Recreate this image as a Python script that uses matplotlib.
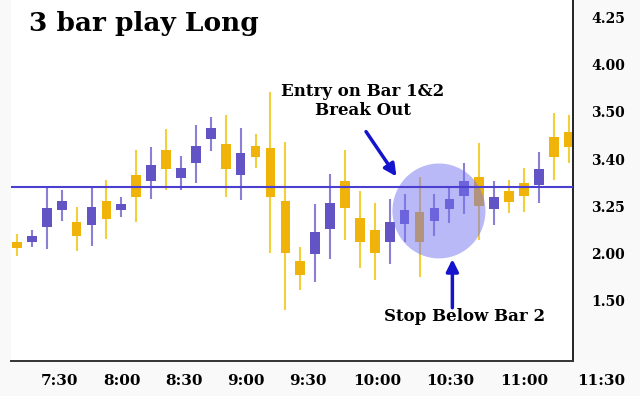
import matplotlib
matplotlib.use("Agg")
import matplotlib.pyplot as plt
from matplotlib.patches import Ellipse
import numpy as np

# ---------------------------------------------------------------- data
# prices in chart "steps" (one step = gap between two y labels)
OPEN = [1.25, 1.25, 1.57, 1.92, 1.66, 1.60, 2.12, 1.92, 2.66, 2.54,
        3.19, 2.60, 2.91, 3.42, 3.32, 2.66, 3.28, 3.24, 2.12, 0.83,
        0.98, 1.51, 2.54, 1.76, 1.50, 1.25, 1.62, 1.88, 1.69, 1.94,
        2.22, 2.61, 1.94, 2.33, 2.49, 2.46, 3.47, 3.58]
CLOSE = [1.11, 1.37, 1.96, 2.12, 1.38, 1.98, 1.74, 2.05, 2.20, 2.87,
         2.79, 2.82, 3.28, 3.65, 2.79, 3.13, 3.05, 2.20, 1.02, 0.54,
         1.46, 2.06, 1.96, 1.25, 1.00, 1.66, 1.92, 1.25, 1.96, 2.15,
         2.54, 2.01, 2.20, 2.10, 2.22, 2.78, 3.05, 3.26]
HIGH = [1.41, 1.50, 2.41, 2.34, 1.99, 2.41, 2.56, 2.20, 3.19, 3.25,
        3.63, 3.07, 3.71, 3.90, 3.93, 3.66, 3.54, 4.41, 3.37, 1.13,
        2.05, 2.68, 3.19, 2.32, 2.06, 2.15, 2.26, 2.61, 2.26, 2.41,
        2.92, 3.33, 2.54, 2.56, 2.80, 3.15, 3.97, 3.93]
LOW = [0.95, 1.14, 1.09, 1.69, 1.06, 1.16, 1.30, 1.78, 1.67, 2.15,
       2.34, 2.34, 2.49, 3.17, 2.19, 2.13, 2.80, 1.02, -0.20, 0.23,
       0.40, 0.88, 1.29, 0.69, 0.44, 0.78, 1.25, 0.51, 1.38, 1.64,
       1.83, 1.29, 1.60, 1.86, 1.88, 2.07, 2.56, 2.91]

Y_LABELS = ["1.50", "2.00", "3.25", "3.40", "3.50", "4.00", "4.25"]
TIME_LABELS = ["7:30", "8:00", "8:30", "9:00", "9:30", "10:00", "10:30", "11:00", "11:30"]
TIME_POS = [2.82, 7.04, 11.2, 15.36, 19.52, 24.14, 29.04, 34.0, 39.17]

BREAKOUT = 2.41

# ---------------------------------------------------------------- style
PURPLE = "#6354c6"
PURPLE_WICK = "#8b80d6"
GOLD = "#f0b30a"
GOLD_WICK = "#f3cf3c"
LINE = "#4b3fd0"
ARROW = "#1414cc"
SERIF = ["DejaVu Serif"]

fig = plt.figure(figsize=(6.4, 3.96), dpi=100, facecolor="#f9f9fa")
ax = fig.add_axes([11 / 640, 35 / 396, 562 / 640, 361 / 396])
ax.set_facecolor("white")

x = np.arange(len(OPEN))
o, c, h, l = map(np.array, (OPEN, CLOSE, HIGH, LOW))
up = c >= o
body_col = np.where(up, PURPLE, GOLD)
wick_col = np.where(up, PURPLE_WICK, GOLD_WICK)

ax.vlines(x, l, h, colors=wick_col, linewidth=1.5, zorder=2)
ax.bar(x, np.abs(c - o), bottom=np.minimum(o, c), width=0.65,
       color=body_col, zorder=2.5)

ax.axhline(BREAKOUT, color=LINE, linewidth=1.5, zorder=4)

ax.add_patch(Ellipse((28.3, 1.90), 6.24, 2.01, facecolor="#7474f2",
                     alpha=0.5, edgecolor="none", zorder=3))

ax.set_xlim(-0.4, 37.29)
ax.set_ylim(-1.277, 6.367)

for s in ("left", "top"):
    ax.spines[s].set_visible(False)
ax.spines["bottom"].set_color("#333333")
ax.spines["right"].set_color("#222222")
ax.spines["bottom"].set_linewidth(1.4)
ax.spines["right"].set_linewidth(1.4)

ax.set_xticks([])
ax.yaxis.tick_right()
ax.set_yticks(range(len(Y_LABELS)))
ax.set_yticklabels(Y_LABELS, fontfamily=SERIF, fontweight="bold", fontsize=10)
ax.tick_params(axis="y", length=0, pad=13)

for pos, lab in zip(TIME_POS, TIME_LABELS):
    ax.annotate(lab, xy=(pos, 0), xycoords=("data", "axes fraction"),
                xytext=(0, -20), textcoords="offset pixels",
                ha="center", va="center", fontsize=11, fontweight="bold",
                family=SERIF, annotation_clip=False)

fig.text(29 / 640, 1 - 23 / 396, "3 bar play Long", ha="left", va="center",
         fontsize=19, fontweight="bold", family=SERIF)

ax.text(23.2, 4.23, "Entry on Bar 1&2\nBreak Out", ha="center", va="center",
        fontsize=12, fontweight="bold", family=SERIF, linespacing=1.1)
ax.text(30.05, -0.34, "Stop Below Bar 2", ha="center", va="center",
        fontsize=12, fontweight="bold", family=SERIF)

ax.annotate("", xy=(25.45, 2.63), xytext=(23.41, 3.58),
            arrowprops=dict(arrowstyle="-|>", color=ARROW, lw=2.5,
                            mutation_scale=18, shrinkA=0, shrinkB=0), zorder=5)
ax.annotate("", xy=(29.2, 0.88), xytext=(29.2, -0.15),
            arrowprops=dict(arrowstyle="-|>", color=ARROW, lw=2.5,
                            mutation_scale=18, shrinkA=0, shrinkB=0), zorder=5)

fig.savefig("out.png", dpi=100, facecolor=fig.get_facecolor())
